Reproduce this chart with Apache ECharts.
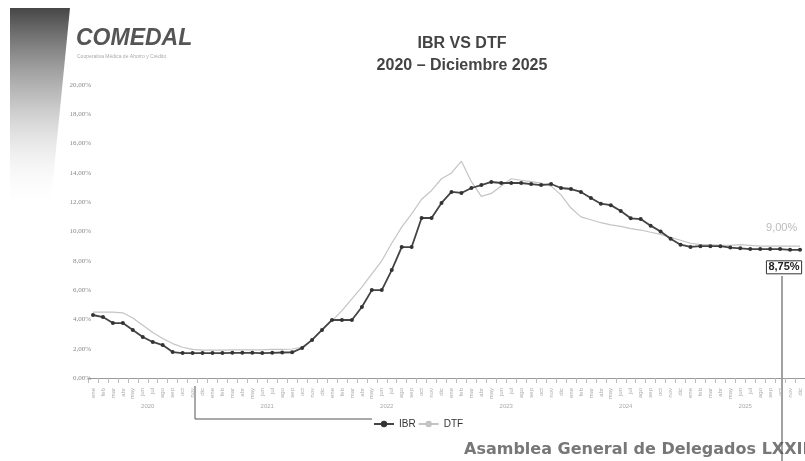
<!DOCTYPE html>
<html>
<head>
<meta charset="utf-8">
<script src="https://cdn.jsdelivr.net/npm/echarts@6/dist/echarts.min.js"></script>
<style>html,body{margin:0;padding:0;background:#fff;}#c{width:805px;height:461px;}</style>
</head>
<body>
<div id="c"></div>
<script>
var monthNames = ['ene','feb','mar','abr','may','jun','jul','ago','sep','oct','nov','dic'];
var years = ['2020','2021','2022','2023','2024','2025'];

var ibr = [
  4.30,4.16,3.75,3.75,3.28,2.80,2.46,2.25,1.77,1.70,1.70,1.70,
  1.70,1.70,1.72,1.72,1.72,1.70,1.72,1.74,1.75,2.05,2.60,3.28,
  3.96,3.96,3.96,4.85,6.00,6.00,7.37,8.94,8.94,10.92,10.92,11.95,
  12.70,12.63,12.97,13.17,13.38,13.31,13.31,13.31,13.24,13.17,13.24,12.97,
  12.90,12.70,12.29,11.90,11.80,11.40,10.90,10.85,10.40,10.00,9.50,9.10,
  8.95,9.00,9.00,9.00,8.90,8.85,8.80,8.80,8.80,8.80,8.75,8.75
];
var dtf = [
  4.50,4.50,4.50,4.45,4.10,3.60,3.10,2.70,2.35,2.10,1.95,1.90,
  1.90,1.90,1.92,1.92,1.93,1.92,1.95,1.95,1.98,2.10,2.60,3.30,
  3.90,4.60,5.40,6.20,7.10,8.00,9.20,10.30,11.20,12.20,12.80,13.60,
  14.00,14.80,13.40,12.40,12.60,13.10,13.60,13.50,13.40,13.30,13.10,12.50,
  11.60,11.00,10.80,10.60,10.45,10.35,10.20,10.10,9.95,9.80,9.60,9.40,
  9.20,9.10,9.10,9.05,9.05,9.10,9.05,9.00,9.00,9.00,9.00,9.00
];
var ibrLast = '8,75%';
var dtfLast = '9,00%';

var months = [];
years.forEach(function(y){ monthNames.forEach(function(m){ months.push(m); }); });

function pct(v){ return v.toFixed(2).replace('.', ',') + '%'; }

var ibrData = ibr.map(function(v, i){
  if (i === ibr.length - 1) {
    return {value: v, label: {show: true, formatter: ibrLast, position: 'bottom', offset: [-16, 4],
      color: '#222', fontWeight: 'bold', fontSize: 11, fontFamily: 'Liberation Sans',
      borderColor: '#333', borderWidth: 1, padding: [1, 2]}};
  }
  return v;
});

var chart = echarts.init(document.getElementById('c'), null, {renderer: 'canvas'});
chart.setOption({
  animation: false,
  backgroundColor: '#fff',
  title: {
    text: 'IBR VS DTF\n2020 – Diciembre 2025',
    left: 457, top: 28, textAlign: 'center',
    textStyle: {fontSize: 16, fontWeight: 'bold', color: '#444', lineHeight: 22, fontFamily: 'Liberation Sans'}
  },
  legend: {
    data: ['IBR', 'DTF'],
    left: 368, top: 414,
    itemWidth: 20, itemHeight: 8, itemGap: 2,
    textStyle: {fontSize: 10, color: '#333', fontFamily: 'Liberation Sans'}
  },
  grid: {left: 88, top: 85, width: 720, height: 293, containLabel: false},
  xAxis: [{
    type: 'category', data: months, boundaryGap: true, offset: 7,
    axisLine: {lineStyle: {color: '#999'}},
    axisTick: {show: true, interval: 0, lineStyle: {color: '#bbb'}},
    axisLabel: {interval: 0, rotate: 90, fontSize: 6, color: '#aaa', margin: 3, fontFamily: 'Liberation Sans'}
  }, {
    type: 'category', data: years, position: 'bottom', offset: 17,
    axisLine: {show: false}, axisTick: {show: false},
    axisLabel: {fontSize: 6, color: '#aaa', fontFamily: 'Liberation Sans'}
  }],
  yAxis: {
    type: 'value', min: 0, max: 20, interval: 2,
    axisLine: {show: false}, axisTick: {show: false}, splitLine: {show: false},
    axisLabel: {formatter: function(v){ return pct(v); }, fontSize: 7, color: '#888', margin: -3, fontFamily: 'Liberation Serif'}
  },
  series: [{
    name: 'IBR', type: 'line', data: ibrData, z: 3,
    symbol: 'circle', symbolSize: 4, showAllSymbol: true,
    lineStyle: {color: '#444', width: 1.8},
    itemStyle: {color: '#333'}
  }, {
    name: 'DTF', type: 'line', data: dtf, z: 2,
    symbol: 'none',
    lineStyle: {color: '#c4c4c4', width: 1.2},
    itemStyle: {color: '#c4c4c4'},
    endLabel: {show: true, formatter: dtfLast, offset: [-42, -18], color: '#bbb', fontSize: 11, fontFamily: 'Liberation Sans'}
  }],
  graphic: [
    {type: 'polygon', shape: {points: [[10, 8], [70, 8], [50, 210], [10, 210]]}, silent: true,
      style: {fill: new echarts.graphic.LinearGradient(0, 0, 0, 1, [
        {offset: 0, color: 'rgba(70,70,70,1)'},
        {offset: 0.45, color: 'rgba(150,150,150,0.6)'},
        {offset: 1, color: 'rgba(255,255,255,0)'}
      ])}},
    {type: 'text', left: 76, top: 27, silent: true,
      style: {text: 'COMEDAL', fill: '#555', font: 'italic bold 23px "Liberation Sans"'}},
    {type: 'text', left: 77, top: 54, silent: true,
      style: {text: 'Cooperativa Médica de Ahorro y Crédito', fill: '#aaa', font: '5px "Liberation Sans"'}},
    {type: 'text', left: 464, top: 442, silent: true,
      style: {text: 'Asamblea General de Delegados LXXIII', fill: '#777', font: 'bold 16px "DejaVu Sans"'}},
    {type: 'polyline', silent: true, shape: {points: [[195, 386], [195, 419], [372, 419]]},
      style: {stroke: '#555', lineWidth: 1, fill: null}},
    {type: 'line', silent: true, shape: {x1: 782, y1: 276, x2: 782, y2: 461},
      style: {stroke: '#444', lineWidth: 1}}
  ]
});
</script>
</body>
</html>
